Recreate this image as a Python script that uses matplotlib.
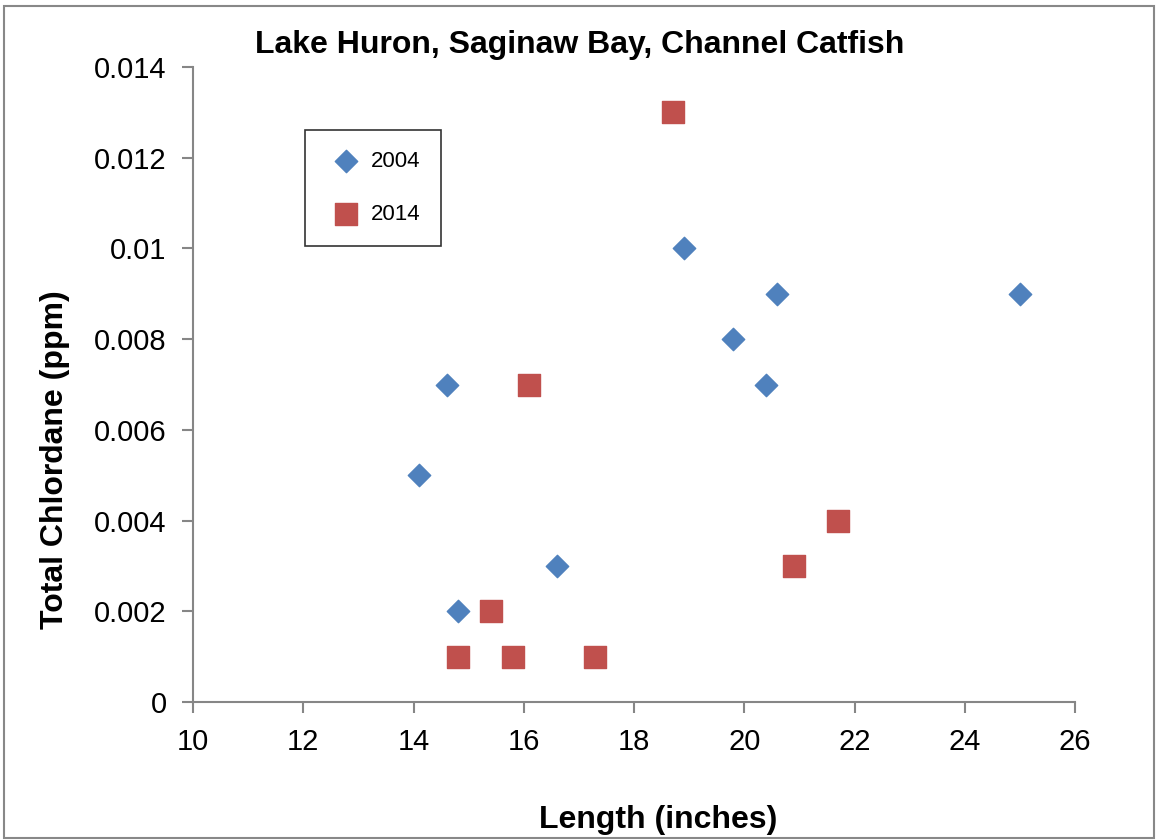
import matplotlib.pyplot as plt
from matplotlib.patches import Rectangle

plt.rcParams['font.family'] = ['Liberation Sans', 'DejaVu Sans']

# length (inches), total chlordane (ppm)
len_2004 = [14.1, 14.6, 14.8, 16.6, 18.9, 19.8, 20.4, 20.6, 25.0]
chl_2004 = [0.005, 0.007, 0.002, 0.003, 0.010, 0.008, 0.007, 0.009, 0.009]

len_2014 = [14.8, 15.4, 15.8, 16.1, 17.3, 18.7, 20.9, 21.7]
chl_2014 = [0.001, 0.002, 0.001, 0.007, 0.001, 0.013, 0.003, 0.004]

x_ticks = [10, 12, 14, 16, 18, 20, 22, 24, 26]
y_ticks = [0, 0.002, 0.004, 0.006, 0.008, 0.01, 0.012, 0.014]
y_labels = ['0', '0.002', '0.004', '0.006', '0.008', '0.01', '0.012', '0.014']

W, H = 1156, 840
fig = plt.figure(figsize=(W / 100, H / 100), dpi=100)
ax = fig.add_axes([193 / W, 1 - 702 / H, (1075 - 193) / W, (702 - 67) / H])

ax.scatter(len_2004, chl_2004, marker='D', s=130, color='#4F81BD', label='2004', zorder=3)
ax.scatter(len_2014, chl_2014, marker='s', s=230, color='#C0504D', label='2014', zorder=3)

ax.set_xlim(10, 26)
ax.set_ylim(0, 0.014)
ax.set_xticks(x_ticks)
ax.set_yticks(y_ticks)
ax.set_yticklabels(y_labels)
ax.tick_params(labelsize=21, length=8, width=1.5, color='#868686', direction='out', pad=11)
for s in ['top', 'right']:
    ax.spines[s].set_visible(False)
for s in ['left', 'bottom']:
    ax.spines[s].set_color('#868686')
    ax.spines[s].set_linewidth(1.5)

fig.text(580 / W, 1 - 45 / H, 'Lake Huron, Saginaw Bay, Channel Catfish',
         ha='center', va='center', fontsize=23, fontweight='bold')
fig.text(55 / W, 1 - 460 / H, 'Total Chlordane (ppm)', rotation=90,
         ha='center', va='center', fontsize=23, fontweight='bold')
fig.text(658 / W, 1 - 820 / H, 'Length (inches)',
         ha='center', va='center', fontsize=23, fontweight='bold')

leg = fig.legend(loc='upper left', bbox_to_anchor=(305 / W, 1 - 130 / H),
                 borderaxespad=0, fancybox=False, edgecolor='black',
                 fontsize=16, labelspacing=1.45, handletextpad=0.2,
                 borderpad=0.95, handlelength=1.8, scatterpoints=1)
leg.get_frame().set_linewidth(1.2)

fig.patches.append(Rectangle((4 / W, 2 / H), 1150 / W, 832 / H, transform=fig.transFigure,
                             fill=False, edgecolor='#888888', linewidth=1.5))

fig.savefig('out.png', dpi=100)
